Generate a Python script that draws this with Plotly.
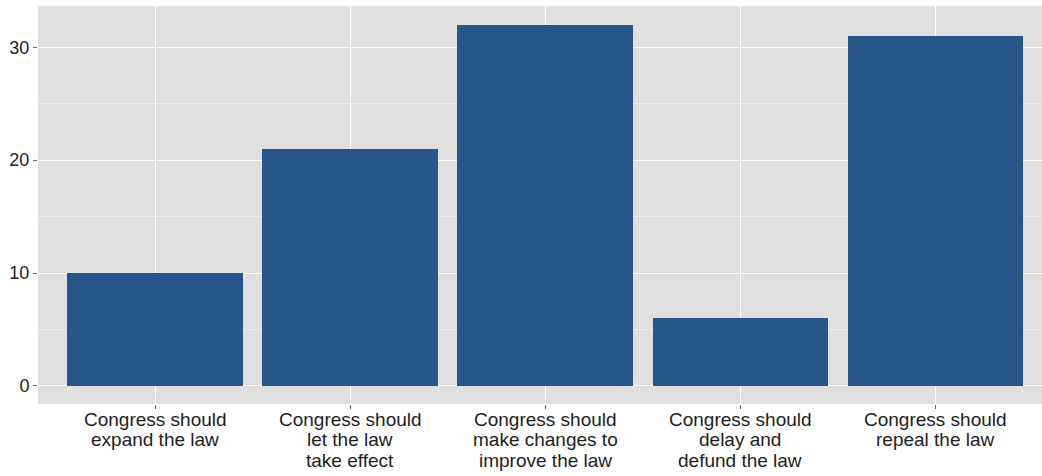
import plotly.graph_objects as go

categories = [
    "Congress should<br>expand the law",
    "Congress should<br>let the law<br>take effect",
    "Congress should<br>make changes to<br>improve the law",
    "Congress should<br>delay and<br>defund the law",
    "Congress should<br>repeal the law",
]
values = [10, 21, 32, 6, 31]
y_ticks = [0, 10, 20, 30]

xs = list(range(len(categories)))

fig = go.Figure(go.Bar(
    x=xs,
    y=values,
    width=0.9,
    marker=dict(color="#27568a", line=dict(width=0)),
))

annotations = []
for i, lab in enumerate(categories):
    for j, line in enumerate(lab.split("<br>")):
        annotations.append(dict(
            x=i, xref="x", y=0, yref="paper",
            text=line, showarrow=False,
            xanchor="center", yanchor="top",
            yshift=-2.5 - 20.5 * j,
            font=dict(family="Liberation Sans, Arial, sans-serif", size=19, color="#1e1e1e"),
        ))

fig.update_layout(
    width=1042, height=476,
    margin=dict(l=38, r=0, t=6, b=72),
    plot_bgcolor="#e0e0e0",
    paper_bgcolor="white",
    showlegend=False,
    font=dict(family="Liberation Sans, Arial, sans-serif", size=18, color="#1e1e1e"),
    bargap=0,
    annotations=annotations,
)
fig.update_xaxes(
    tickmode="array",
    tickvals=xs,
    showticklabels=False,
    range=[-0.6, 4.546],
    showgrid=True, gridcolor="white", gridwidth=1.2,
    ticks="outside", ticklen=4, tickcolor="#666666", tickwidth=1,
    zeroline=False, showline=False, automargin=False,
)
fig.update_yaxes(
    range=[-1.6, 33.65],
    tickmode="array",
    tickvals=y_ticks,
    showgrid=True, gridcolor="white", gridwidth=1.2,
    minor=dict(tickmode="array", tickvals=[5, 15, 25], showgrid=True, gridcolor="#ececec", gridwidth=0.6),
    ticks="outside", ticklen=4, tickcolor="#666666", tickwidth=1,
    zeroline=False, showline=False, automargin=False,
    tickfont=dict(size=18, color="#1e1e1e"),
)

fig.write_html(
    "out.html",
    config={"displayModeBar": False},
    post_script="document.body.style.margin='0';document.body.style.overflow='hidden';",
)
